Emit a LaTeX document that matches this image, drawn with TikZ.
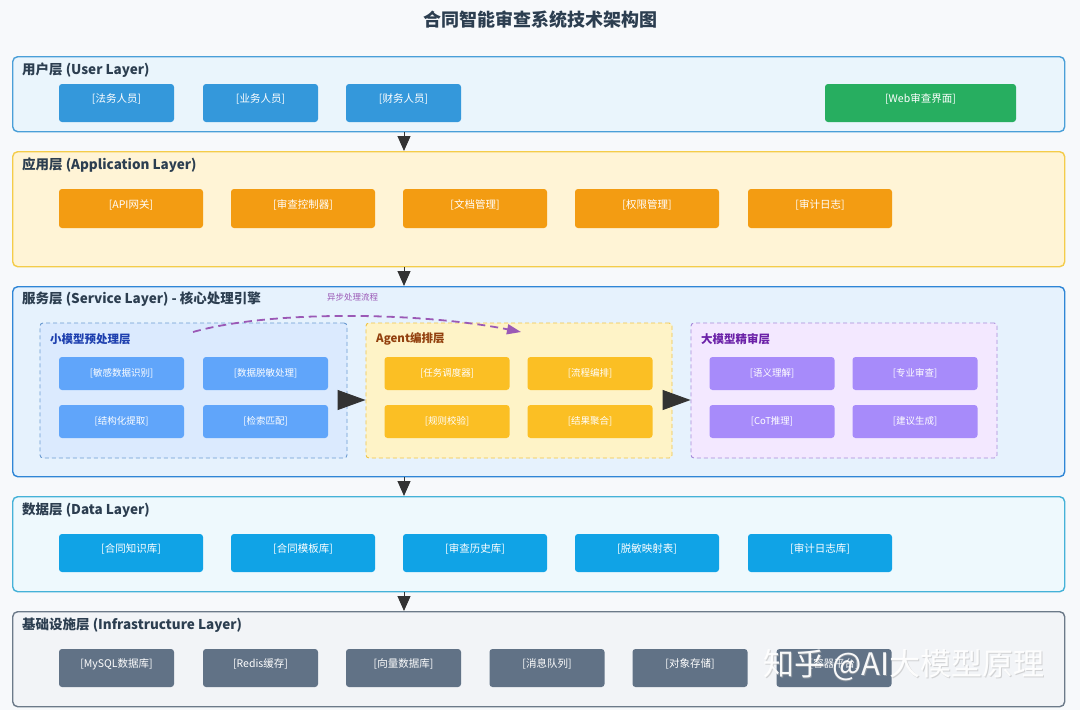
\documentclass[tikz,border=0pt]{standalone}
\usepackage{fontspec}
\setmainfont{Noto Sans CJK SC}
\usetikzlibrary{arrows.meta,calc}
\definecolor{bgc}{HTML}{F7F9FB}
\definecolor{titlec}{HTML}{2C3E50}
\definecolor{userfill}{HTML}{EAF5FC}
\definecolor{userdraw}{HTML}{4A9FD8}
\definecolor{appfill}{HTML}{FFF4D6}
\definecolor{appdraw}{HTML}{F4CC4A}
\definecolor{svcfill}{HTML}{E6F2FD}
\definecolor{svcdraw}{HTML}{2F86D6}
\definecolor{datafill}{HTML}{EEF9FD}
\definecolor{datadraw}{HTML}{45B2D8}
\definecolor{infrafill}{HTML}{F2F4F7}
\definecolor{infradraw}{HTML}{6C7A89}
\definecolor{userbox}{HTML}{3498DB}
\definecolor{webbox}{HTML}{27AE60}
\definecolor{appbox}{HTML}{F39C12}
\definecolor{databox}{HTML}{10A3E6}
\definecolor{infrabox}{HTML}{617286}
\definecolor{pafill}{HTML}{DBEAFE}
\definecolor{padraw}{HTML}{6B9BD1}
\definecolor{pabox}{HTML}{60A5FA}
\definecolor{patitle}{HTML}{1E40AF}
\definecolor{pbfill}{HTML}{FEF3C7}
\definecolor{pbdraw}{HTML}{EFC445}
\definecolor{pbbox}{HTML}{FBBF24}
\definecolor{pbtitle}{HTML}{92400E}
\definecolor{pcfill}{HTML}{F3E8FF}
\definecolor{pcdraw}{HTML}{A78BDA}
\definecolor{pcbox}{HTML}{A78BFA}
\definecolor{pctitle}{HTML}{6B21A8}
\definecolor{asyncc}{HTML}{9B59B6}
\definecolor{arrowc}{HTML}{333333}
\begin{document}
\begin{tikzpicture}[x=1pt,y=-1pt,
  layer/.style={rectangle, line width=1.4pt, rounded corners=5pt, anchor=north west, minimum width=1052pt, inner sep=0pt},
  ltitle/.style={anchor=west, inner sep=0pt, text=titlec, font=\fontsize{13.5}{15}\selectfont\bfseries},
  panel/.style={rectangle, dashed, line width=0.9pt, dash pattern=on 4pt off 3pt, rounded corners=3pt, minimum width=306pt, minimum height=135pt, inner sep=0pt},
  ptitle/.style={anchor=west, inner sep=0pt, font=\fontsize{11.5}{13}\selectfont\bfseries},
  box/.style={rectangle, rounded corners=3pt, minimum height=38pt, inner sep=0pt, text=white, text height=8pt, text depth=9pt, font=\fontsize{10.5}{12}\selectfont},
  sbox/.style={rectangle, rounded corners=3pt, minimum width=125pt, minimum height=33pt, inner sep=0pt, text=white, font=\fontsize{9.5}{11}\selectfont},
  vflow/.style={draw=arrowc, line width=1pt, -{Triangle[width=13pt,length=15pt]}, arrowc},
  hflow/.style={draw=arrowc, line width=1pt, -{Triangle[width=20pt,length=28pt]}, arrowc}
]
\useasboundingbox[fill=bgc] (0,0) rectangle (1080,710);

% title
\node[inner sep=0pt, text=titlec, font=\fontsize{18}{20}\selectfont\bfseries] (title) at (540,20) {合同智能审查系统技术架构图};

% layers
\node[layer, draw=userdraw, fill=userfill, minimum height=75pt] (user) at (12,56) {};
\node[layer, draw=appdraw, fill=appfill, minimum height=115pt] (app) at (12,151) {};
\node[layer, draw=svcdraw, fill=svcfill, minimum height=190pt] (svc) at (12,286) {};
\node[layer, draw=datadraw, fill=datafill, minimum height=95pt] (data) at (12,496) {};
\node[layer, draw=infradraw, fill=infrafill, minimum height=95pt] (infra) at (12,611) {};

\node[ltitle] (tuser) at (22,70) {用户层 (User Layer)};
\node[ltitle] (tapp) at (22,165) {应用层 (Application Layer)};
\node[ltitle] (tsvc) at (22,299) {服务层 (Service Layer) - 核心处理引擎};
\node[ltitle] (tdata) at (22,510) {数据层 (Data Layer)};
\node[ltitle] (tinfra) at (22,625) {基础设施层 (Infrastructure Layer)};

% user boxes
\node[box, fill=userbox, minimum width=115pt] (u1) at (116.5,103) {[法务人员]};
\node[box, fill=userbox, minimum width=115pt] (u2) at (260.5,103) {[业务人员]};
\node[box, fill=userbox, minimum width=115pt] (u3) at (403.5,103) {[财务人员]};
\node[box, fill=webbox, minimum width=191pt] (u4) at (920.5,103) {[Web审查界面]};

% app boxes
\foreach \n/\x/\t in {a1/131/[API网关], a2/303/[审查控制器], a3/475/[文档管理], a4/647/[权限管理], a5/820/[审计日志]}
  \node[box, fill=appbox, minimum width=144pt, minimum height=39pt] (\n) at (\x,208.5) {\t};

% data boxes
\foreach \n/\x/\t in {d1/131/[合同知识库], d2/303/[合同模板库], d3/475/[审查历史库], d4/647/[脱敏映射表], d5/820/[审计日志库]}
  \node[box, fill=databox, minimum width=144pt] (\n) at (\x,553) {\t};

% infra boxes
\foreach \n/\x/\t in {i1/116.5/[MySQL数据库], i2/260.5/[Redis缓存], i3/403.5/[向量数据库], i4/547/[消息队列], i5/690/[对象存储], i6/834/[容器平台]}
  \node[box, fill=infrabox, minimum width=115pt] (\n) at (\x,668) {\t};

% service sub panels
\node[panel, draw=padraw, fill=pafill, minimum width=307pt] (pa) at (193.5,390.5) {};
\node[panel, draw=pbdraw, fill=pbfill] (pb) at (519,390.5) {};
\node[panel, draw=pcdraw, fill=pcfill] (pc) at (844,390.5) {};
\node[ptitle, text=patitle] (tpa) at (50,339) {小模型预处理层};
\node[ptitle, text=pbtitle] (tpb) at (376,339) {Agent编排层};
\node[ptitle, text=pctitle] (tpc) at (701,339) {大模型精审层};

\node[sbox, fill=pabox] (s1) at (121.5,373.5) {[敏感数据识别]};
\node[sbox, fill=pabox] (s2) at (265.5,373.5) {[数据脱敏处理]};
\node[sbox, fill=pabox] (s3) at (121.5,421.5) {[结构化提取]};
\node[sbox, fill=pabox] (s4) at (265.5,421.5) {[检索匹配]};
\node[sbox, fill=pbbox] (g1) at (447,373.5) {[任务调度器]};
\node[sbox, fill=pbbox] (g2) at (590,373.5) {[流程编排]};
\node[sbox, fill=pbbox] (g3) at (447,421.5) {[规则校验]};
\node[sbox, fill=pbbox] (g4) at (590,421.5) {[结果聚合]};
\node[sbox, fill=pcbox] (l1) at (772,373.5) {[语义理解]};
\node[sbox, fill=pcbox] (l2) at (915,373.5) {[专业审查]};
\node[sbox, fill=pcbox] (l3) at (772,421.5) {[CoT推理]};
\node[sbox, fill=pcbox] (l4) at (915,421.5) {[建议生成]};

% async flow
\node[anchor=west, inner sep=0pt, text=asyncc, font=\fontsize{8.5}{10}\selectfont] (async) at (327,297) {异步处理流程};
\coordinate (as) at (193,332);
\coordinate (ae) at (521,332);
\draw[asyncc, line width=1.8pt, dash pattern=on 8pt off 5pt, -{Triangle[width=10pt,length=14pt]}] (as) .. controls (270,310) and (420,312) .. (ae);

% horizontal flows
\coordinate (row) at (0,400);
\draw[hflow] (pa.east |- row) -- (pb.west |- row);
\draw[hflow] (pb.east |- row) -- (pc.west |- row);

% vertical flows
\coordinate (ax) at (404,0);
\draw[vflow] (user.south -| ax) -- (app.north -| ax);
\draw[vflow] (app.south -| ax) -- (svc.north -| ax);
\draw[vflow] (svc.south -| ax) -- (data.north -| ax);
\draw[vflow] (data.south -| ax) -- (infra.north -| ax);

% watermark
\node[anchor=west, inner sep=0pt, text=gray!60, opacity=0.5, font=\fontsize{31}{34}\selectfont] at (763.8,665.8) {知乎 @AI大模型原理};
\node[anchor=west, inner sep=0pt, text=white, opacity=0.95, font=\fontsize{31}{34}\selectfont] (wm) at (763,665) {知乎 @AI大模型原理};
\end{tikzpicture}
\end{document}
